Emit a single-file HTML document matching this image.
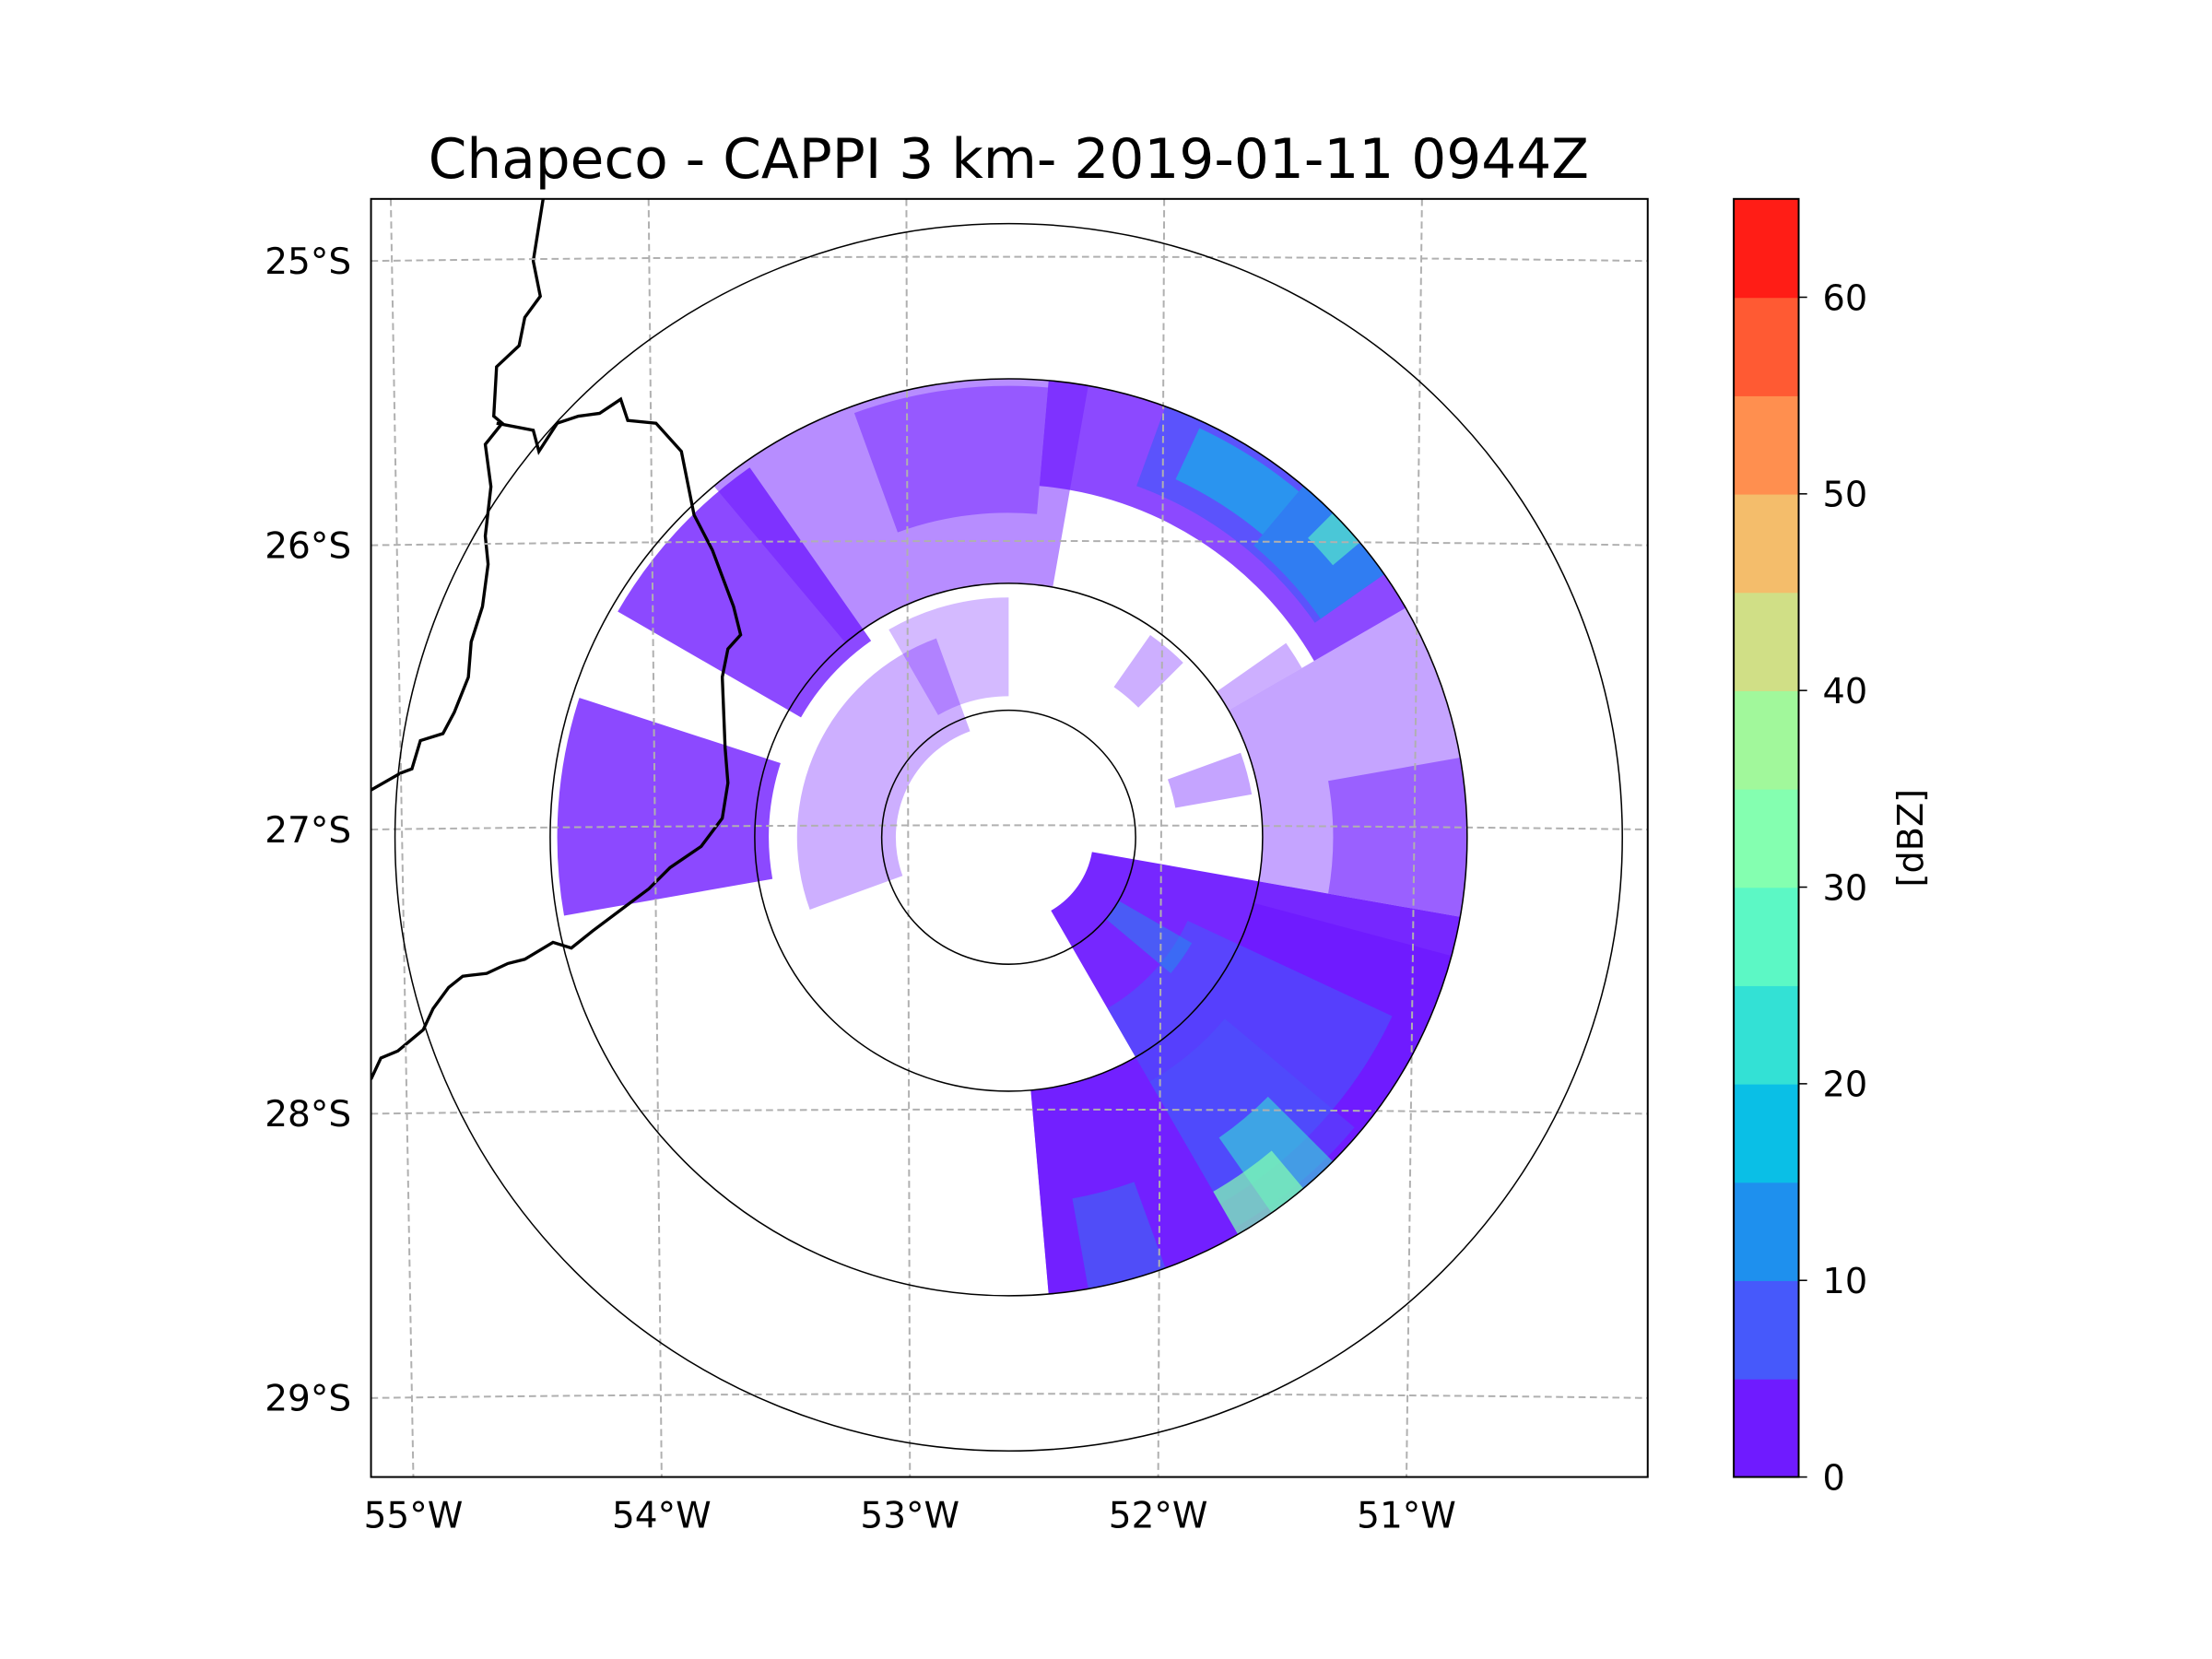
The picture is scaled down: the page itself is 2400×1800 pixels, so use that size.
<!DOCTYPE html>
<html><head><meta charset="utf-8"><style>
html,body{margin:0;padding:0;background:#fff;}
svg{display:block;font-family:"DejaVu Sans","Liberation Sans",sans-serif;}
</style></head><body>
<svg id="fig" width="2400" height="1800" viewBox="0 0 1568 1176" xmlns="http://www.w3.org/2000/svg">
<rect width="1568" height="1176" fill="#fff"/>
<text x="715" y="126" font-size="39" text-anchor="middle" fill="#000">Chapeco - CAPPI 3 km- 2019-01-11 0944Z</text>
<defs><clipPath id="axclip"><rect x="263" y="141" width="905" height="906"/></clipPath></defs>
<g id="plot" clip-path="url(#axclip)"></g>
<rect x="263" y="141" width="905" height="906" fill="none" stroke="#000" stroke-width="1.3"/>
<g id="ticks"></g>
<g id="cbar"></g>
</svg>
<script>
// ---- data ----
var latLabels = ["25°S","26°S","27°S","28°S","29°S"];
var lonLabels = ["55°W","54°W","53°W","52°W","51°W"];
var dbzLevels = [0,5,10,15,20,25,30,35,40,45,50,55,60,65];
var dbzColors = ["#6f1bff","#4659fb","#1e90ee","#0abfe6","#33e1d5","#5cf8c5","#84ffb0","#a1f89b","#d0df86","#f4bd6b","#ff8f4f","#ff5a33","#ff1d16"];
var cbarTicks = [0,10,20,30,40,50,60];
var rangeRings = [90,180,325,435];
// echo sectors: azimuth start, azimuth end (deg, clockwise from N), inner r, outer r, dBZ, density
var echoAz0 = [100,105,150,115,130,135, 5, 20, 25, 40, 45, -40,-20,-60,-100,-110,-30, 60, 80, 70, 35, 55, 140, 120,160];
var echoAz1 = [150,175,175,150,150,145,60, 55, 40, 55, 50, 10, 5,-35,-72,-20, 0, 100,100,80, 45, 60,150,130,170];
var echoR0  = [60, 180,180,140,200,260,250,265,280,270,300,180,230,170,170,80, 100,180,230,120,130,180,290,90, 260];
var echoR1  = [325,325,325,300,320,325,325,325,320,325,325,325,320,320,320,150,170,325,325,175,175,240,325,150,325];
var echoDbz = [0, 0, 0, 5, 5, 20,0, 5, 15, 10, 25, 0, 0, 0, 0, 0, 0, 0, 0, 0, 0, 0, 30, 10,10];
var echoDen = [0.95,0.9,0.75,0.6,0.45,0.6,0.8,0.7,0.6,0.7,0.6,0.5,0.45,0.8,0.8,0.35,0.3,0.4,0.5,0.4,0.35,0.35,0.7,0.5,0.4];
var borderA = [[385,141],[378,185],[383,210],[372,225],[368,245],[352,260],[350,295],[356,300],[344,315],[348,345],[344,380],[346,400],[342,430],[334,455],[332,480],[322,505],[314,520],[298,525],[292,545],[284,548],[263,560]];
var borderB = [[352,300],[378,305],[382,320],[395,300],[410,295],[425,293],[440,283],[445,298],[465,300],[483,320],[488,345],[492,365],[505,390],[520,430],[525,450],[516,460],[512,480],[514,530],[516,555],[512,580],[497,600],[475,615],[460,630],[440,645],[420,660],[405,672],[392,668],[372,680],[360,683],[345,690],[328,692],[318,700],[307,715],[300,730],[282,745],[270,750],[263,765]];

// ---- geometry ----
var NS="http://www.w3.org/2000/svg";
var cx=715, cy=593.5;
var latY=function(i){return 185+i*201.5;};
var lonTop=function(i){return 277+i*182.75;};
var lonBot=function(i){return 293+i*176;};
var cbX=1229, cbW=46, cbTop=141, cbBot=1047;
var dbzY=function(v){return cbBot-(v-dbzLevels[0])/(dbzLevels[dbzLevels.length-1]-dbzLevels[0])*(cbBot-cbTop);};
function colorFor(v){var i=Math.floor(v/5);return dbzColors[Math.max(0,Math.min(dbzColors.length-1,i))];}
function mk(tag,attrs,parent){var e=document.createElementNS(NS,tag);for(var k in attrs)e.setAttribute(k,attrs[k]);parent.appendChild(e);return e;}
function pt(a,r){var t=a*Math.PI/180;return [cx+r*Math.sin(t),cy-r*Math.cos(t)];}
function sector(a0,a1,r0,r1){var p1=pt(a0,r1),p2=pt(a1,r1),p3=pt(a1,r0),p4=pt(a0,r0);var lg=(a1-a0)>180?1:0;
return "M"+p1[0]+","+p1[1]+" A"+r1+","+r1+" 0 "+lg+" 1 "+p2[0]+","+p2[1]+" L"+p3[0]+","+p3[1]+" A"+r0+","+r0+" 0 "+lg+" 0 "+p4[0]+","+p4[1]+"Z";}

var plot=document.getElementById('plot');
var eg=mk('g',{},plot);


for(var i=0;i<echoAz0.length;i++){
  var p=mk('path',{d:sector(echoAz0[i],echoAz1[i],echoR0[i],echoR1[i]),fill:colorFor(echoDbz[i]),'fill-opacity':echoDen[i]},eg);
  
  
}
[borderA,borderB].forEach(function(b){
  var l=mk('polyline',{points:b.map(function(q){return q.join(',');}).join(' '),fill:'none',stroke:'#000','stroke-width':2.2},plot);
  
  
});
for(var i=0;i<latLabels.length;i++){
  var y=latY(i);
  var g=mk('path',{d:"M263,"+(y)+" Q715,"+(y-6)+" 1168,"+(y),fill:'none',stroke:'#b0b0b0','stroke-width':1.3,'stroke-dasharray':'5,3'},plot);
  
  
}
for(var i=0;i<lonLabels.length;i++){
  var g=mk('line',{x1:lonTop(i),y1:141,x2:lonBot(i),y2:1047,stroke:'#b0b0b0','stroke-width':1.3,'stroke-dasharray':'5,3'},plot);
  
  
}
for(var i=0;i<rangeRings.length;i++){
  var c=mk('circle',{cx:cx,cy:cy,r:rangeRings[i],fill:'none',stroke:'#000','stroke-width':1},plot);
  
  
}
var tk=document.getElementById('ticks');
for(var i=0;i<latLabels.length;i++){
  var t=mk('text',{x:249,y:latY(i)+9,'font-size':25.5,'text-anchor':'end'},tk);t.textContent=latLabels[i];
  
  
}
for(var i=0;i<lonLabels.length;i++){
  var t=mk('text',{x:lonBot(i),y:1083,'font-size':25.5,'text-anchor':'middle'},tk);t.textContent=lonLabels[i];
  
  
}
var cb=document.getElementById('cbar');
for(var i=0;i<dbzColors.length;i++){
  var y1=dbzY(dbzLevels[i]),y0=dbzY(dbzLevels[i+1]);
  var r=mk('rect',{x:cbX,y:y0,width:cbW,height:y1-y0+0.5,fill:dbzColors[i]},cb);
  
  
}
var fr=mk('rect',{x:cbX,y:cbTop,width:cbW,height:cbBot-cbTop,fill:'none',stroke:'#000','stroke-width':1.3},cb);


for(var i=0;i<cbarTicks.length;i++){
  var y=dbzY(cbarTicks[i]);
  var l=mk('line',{x1:cbX+cbW,y1:y,x2:cbX+cbW+6,y2:y,stroke:'#000','stroke-width':1},cb);
  
  
  var t=mk('text',{x:1292,y:y+9,'font-size':25},cb);t.textContent=cbarTicks[i];
  
  
}
var lab=mk('text',{x:0,y:0,'font-size':25,'text-anchor':'middle',transform:'translate(1363,594) rotate(-90)'},cb);lab.textContent='[dBZ]';


</script>
</body></html>
